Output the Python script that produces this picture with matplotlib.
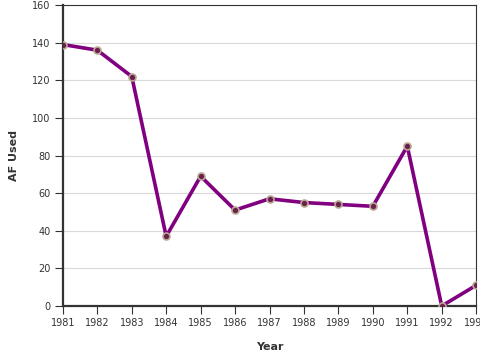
import matplotlib.pyplot as plt

years = [1981, 1982, 1983, 1984, 1985, 1986, 1987, 1988, 1989, 1990, 1991, 1992, 1993]
af_used = [139, 136, 122, 37, 69, 51, 57, 55, 54, 53, 85, 0, 11]
y_ticks = [0, 20, 40, 60, 80, 100, 120, 140, 160]

fig = plt.figure(figsize=(4.8, 3.6), dpi=100)
ax = fig.add_axes([0.131, 0.15, 0.861, 0.836])

ax.plot(years, af_used, color="#800080", lw=2.6, zorder=3,
        marker="o", markersize=5, markerfacecolor="#6b1f4f",
        markeredgecolor="#b8a890", markeredgewidth=1.2)

ax.set_xlim(1981, 1993)
ax.set_ylim(0, 160)
ax.set_xticks(years)
ax.set_yticks(y_ticks)
ax.grid(axis="y", color="#d9d9d9", lw=0.8)
ax.set_axisbelow(True)

for side in ["left", "bottom"]:
    ax.spines[side].set_linewidth(1.6)
    ax.spines[side].set_color("#333333")
for side in ["top", "right"]:
    ax.spines[side].set_linewidth(0.8)
    ax.spines[side].set_color("#333333")

ax.tick_params(labelsize=7, colors="#333333", length=6, pad=3)
ax.set_xlabel("Year", fontsize=8, fontweight="bold", color="#333333")
ax.set_ylabel("AF Used", fontsize=8, fontweight="bold", color="#333333")
ax.xaxis.set_label_coords(0.5, -0.12)
ax.yaxis.set_label_coords(-0.107, 0.5)

fig.savefig("out.png", dpi=100)
